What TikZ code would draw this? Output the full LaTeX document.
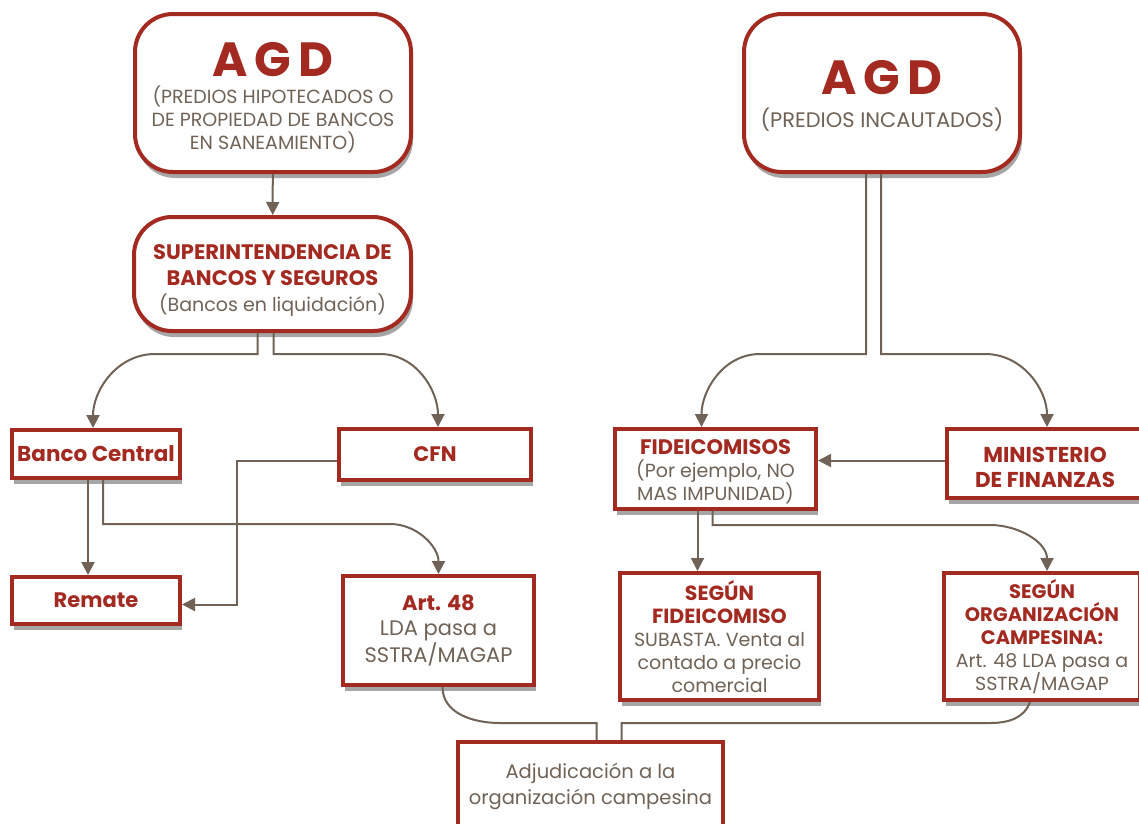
\documentclass[tikz,border=0pt]{standalone}
\usepackage{fontspec}
\setmainfont{Poppins}
\usetikzlibrary{arrows.meta,shadows}

\definecolor{rojo}{RGB}{163,42,32}
\definecolor{gris}{RGB}{112,98,86}
\definecolor{sombra}{RGB}{166,166,166}

\newcommand{\tit}[2][20.5]{\textcolor{rojo}{\fontsize{#1}{24}\selectfont\bfseries #2}}

\tikzset{
  caja/.style={draw=rojo, line width=4pt, fill=white, align=center, inner sep=0pt,
    text=gris, font=\fontsize{19}{23}\selectfont,
    drop shadow={shadow xshift=2pt, shadow yshift=-6pt, fill=sombra, opacity=1}},
  redonda/.style={caja, rounded corners=38pt},
  flecha/.style={draw=gris, line width=2pt, -{Triangle[length=13pt,width=13pt]}},
  linea/.style={draw=gris, line width=2pt},
}

\begin{document}
\begin{tikzpicture}[x=1pt,y=1pt]
\useasboundingbox (0,0) rectangle (1139,-823);

% --- AGD ---
\node[redonda, minimum width=276pt, minimum height=158pt] (agdL) at (273,-93)
  {\rule{0pt}{43pt}\tit[48]{A\hspace{0.14em}G\hspace{0.14em}D}\\[4pt]
   (PREDIOS HIPOTECADOS O\\ DE PROPIEDAD DE BANCOS\\ EN SANEAMIENTO)};
\node[redonda, minimum width=276pt, minimum height=158pt, font=\fontsize{21}{25}\selectfont] (agdR) at (882,-93)
  {\rule{0pt}{40pt}\tit[48]{A\hspace{0.14em}G\hspace{0.14em}D}\\[8pt]
   (PREDIOS INCAUTADOS)};

% --- Bancos ---
\node[redonda, minimum width=277pt, minimum height=114pt, font=\fontsize{19}{26}\selectfont] (super) at (272.5,-274)
  {\rule{0pt}{28pt}\tit[21]{SUPERINTENDENCIA DE}\\ \tit[21]{BANCOS Y SEGUROS}\\ (Bancos en liquidación)};
\node[caja, minimum width=168pt, minimum height=48pt] (banco) at (96,-454) {\tit[21.5]{Banco Central}};
\node[caja, minimum width=192pt, minimum height=51pt] (cfn) at (435,-454.5) {\tit[21]{CFN}};
\node[caja, minimum width=168pt, minimum height=47pt] (remate) at (96,-600.5) {\tit[21]{Remate}};
\node[caja, minimum width=191pt, minimum height=109pt, font=\fontsize{21}{25}\selectfont] (art) at (438.5,-630.5)
  {\tit[21]{Art. 48}\\ LDA pasa a\\ SSTRA/MAGAP};

% --- Predios incautados ---
\node[caja, minimum width=201pt, minimum height=80pt] (fide) at (715.5,-469)
  {\rule{0pt}{20pt}\tit[21]{FIDEICOMISOS}\\ (Por ejemplo, NO\\ MAS IMPUNIDAD)};
\node[caja, minimum width=196pt, minimum height=69pt, font=\fontsize{19}{25}\selectfont] (minis) at (1045,-463.5)
  {\rule{0pt}{24pt}\tit[21.5]{MINISTERIO}\\ \tit[21.5]{DE FINANZAS}};
\node[caja, minimum width=199pt, minimum height=127pt] (sfide) at (719.5,-636.5)
  {\tit{SEGÚN}\\ \tit{FIDEICOMISO}\\ SUBASTA. Venta al\\ contado a precio\\ comercial};
\node[caja, minimum width=196pt, minimum height=127pt] (sorg) at (1042,-636.5)
  {\tit[19.5]{SEGÚN}\\ \tit[19.5]{ORGANIZACIÓN}\\ \tit[19.5]{CAMPESINA:}\\ Art. 48 LDA pasa a\\ SSTRA/MAGAP};
\node[caja, minimum width=265pt, minimum height=88pt, font=\fontsize{19.5}{26}\selectfont] (adj) at (590.5,-786)
  {Adjudicación a la\\ organización campesina};

% --- Conectores ---
\draw[flecha] (agdL) -- (super);
\draw[flecha] ([xshift=-15pt]super.south) |- (155,-354) to[out=180,in=90] ([xshift=-3pt]banco.north);
\draw[flecha] ([xshift=1pt]super.south) |- (380,-354) to[out=0,in=90] ([xshift=3pt]cfn.north);
\draw[flecha] ([xshift=-8pt]banco.south) -- ([xshift=-8pt]remate.north);
\draw[flecha] ([xshift=7pt]banco.south) |- (390,-524) to[out=0,in=90] (art.north);
\draw[flecha] ([yshift=-6pt]cfn.west) -| (237,-560) |- ([yshift=-4pt]remate.east);

\draw[flecha] ([xshift=-16pt]agdR.south) |- (760,-354) to[out=180,in=90] ([xshift=-14pt]fide.north);
\draw[flecha] ([xshift=-1pt]agdR.south) |- (985,-354) to[out=0,in=90] ([xshift=2pt]minis.north);
\draw[flecha] ([yshift=3pt]minis.west) -- ([yshift=3pt]minis.west -| fide.east);
\draw[flecha] ([xshift=-18pt]fide.south) -- ([xshift=-18pt]fide.south |- sfide.north);
\draw[flecha] ([xshift=-3pt]fide.south) |- (990,-525) to[out=0,in=90] ([xshift=5pt]sorg.north);

\draw[linea] ([xshift=4pt]art.south) to[out=-90,in=180] (500,-723) -| ([xshift=6pt]adj.north);
\draw[linea] ([xshift=-12pt]sorg.south) to[out=-110,in=0] (990,-723) -| ([xshift=31pt]adj.north);

\end{tikzpicture}
\end{document}
